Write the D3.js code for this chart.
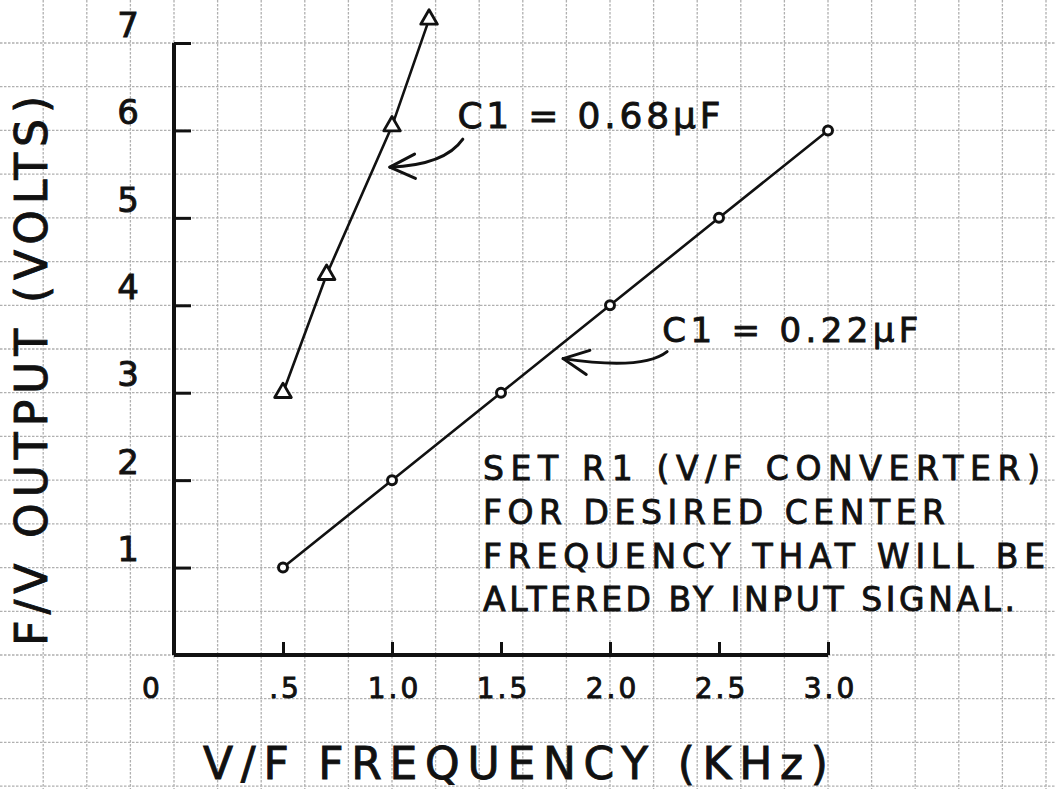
<!DOCTYPE html>
<html>
<head>
<meta charset="utf-8">
<script src="https://cdn.jsdelivr.net/npm/d3@7"></script>
<style>
  html, body { margin: 0; padding: 0; background: #fff; }
  svg { display: block; }
  text { font-family: "DejaVu Sans", sans-serif; fill: #111; stroke: #111; stroke-width: 0.9px; }
</style>
</head>
<body>
<div id="vis"></div>
<script>
var width = 1055;
var height = 789;

// tick values and labels
var xTicks = [0, 0.5, 1.0, 1.5, 2.0, 2.5, 3.0];
var xTickLabels = ['0', '.5', '1.0', '1.5', '2.0', '2.5', '3.0'];
var yTicks = [1, 2, 3, 4, 5, 6, 7];

// C1 = 0.22 uF series (circles)
var freq022 = [0.5, 1.0, 1.5, 2.0, 2.5, 3.0];
var volts022 = [1, 2, 3, 4, 5, 6];

// C1 = 0.68 uF series (triangles)
var freq068 = [0.5, 0.7, 1.0, 1.17];
var volts068 = [3.0, 4.35, 6.05, 7.27];

var noteLines = [
  'SET R1 (V/F CONVERTER)',
  'FOR DESIRED CENTER',
  'FREQUENCY THAT WILL BE',
  'ALTERED BY INPUT SIGNAL.'
];

var svg = d3.select('#vis').append('svg')
  .attr('width', width)
  .attr('height', height);

svg.append('rect').attr('width', width).attr('height', height).attr('fill', '#fff');

var x = d3.scaleLinear().domain([0, 3]).range([174, 828]);
var y = d3.scaleLinear().domain([0, 7]).range([655, 43]);

// graph paper: 2.5 cells per 0.5 kHz, 2 cells per volt
var cellX = (x(0.5) - x(0)) / 2.5;
var cellY = (y(0) - y(0.5));
var gx = d3.range(x(0) - 3 * cellX, width + 1, cellX);
var gy = d3.range(y(7) - cellY, height + 1, cellY);

var grid = svg.append('g')
  .attr('stroke', '#b0b0b0')
  .attr('stroke-width', 1.3)
  .attr('stroke-dasharray', '2.5,1.5');
grid.selectAll('.vg').data(gx).enter().append('line')
  .attr('x1', d => d).attr('x2', d => d)
  .attr('y1', 0).attr('y2', height);
grid.selectAll('.hg').data(gy).enter().append('line')
  .attr('y1', d => d).attr('y2', d => d)
  .attr('x1', 0).attr('x2', width);

// axes
var yAxis = d3.axisLeft(y)
  .tickValues(yTicks)
  .tickFormat(d3.format('d'))
  .tickSizeInner(-17)
  .tickSizeOuter(0)
  .tickPadding(34);

var yg = svg.append('g').attr('transform', 'translate(' + x(0) + ',0)').call(yAxis);
yg.select('.domain').attr('stroke', '#111').attr('stroke-width', 4)
  .attr('d', 'M0,' + y(0) + 'V' + y(7));
yg.selectAll('.tick line').attr('stroke', '#111').attr('stroke-width', 3);
yg.selectAll('.tick text')
  .attr('font-size', 34)
  .attr('font-family', 'DejaVu Sans')
  .attr('fill', '#111')
  .attr('dy', '-0.2em')
  .attr('text-anchor', 'middle')
  .attr('x', -46);

var xAxis = d3.axisBottom(x)
  .tickValues(xTicks)
  .tickFormat((d, i) => xTickLabels[i])
  .tickSizeInner(-13)
  .tickSizeOuter(0)
  .tickPadding(23);

var xg = svg.append('g').attr('transform', 'translate(0,' + y(0) + ')').call(xAxis);
xg.select('.domain').attr('stroke', '#111').attr('stroke-width', 4)
  .attr('d', 'M' + x(0) + ',0H' + x(3));
xg.selectAll('.tick line').attr('stroke', '#111').attr('stroke-width', 3);
xg.selectAll('.tick text')
  .attr('font-size', 28)
  .attr('font-family', 'DejaVu Sans')
  .attr('fill', '#111')
  .attr('letter-spacing', 3)
  .attr('x', d => d === 0 ? -22 : 2);

// axis titles
svg.append('text')
  .attr('transform', 'translate(47,' + (y(3.25)) + ') rotate(-90)')
  .attr('text-anchor', 'middle')
  .attr('font-size', 44)
  .attr('textLength', 550)
  .attr('lengthAdjust', 'spacing')
  .text('F/V OUTPUT (VOLTS)');

svg.append('text')
  .attr('x', 203)
  .attr('y', 779)
  .attr('font-size', 44)
  .attr('textLength', 625)
  .attr('lengthAdjust', 'spacing')
  .text('V/F FREQUENCY (KHz)');

// series lines
var line = d3.line().x(d => x(d[0])).y(d => y(d[1]));
var pts022 = freq022.map((f, i) => [f, volts022[i]]);
var pts068 = freq068.map((f, i) => [f, volts068[i]]);

svg.append('path').datum(pts022)
  .attr('d', line).attr('fill', 'none')
  .attr('stroke', '#111').attr('stroke-width', 2.6);
svg.append('path').datum(pts068)
  .attr('d', line).attr('fill', 'none')
  .attr('stroke', '#111').attr('stroke-width', 2.6);

svg.selectAll('.pt022').data(pts022).enter().append('circle')
  .attr('cx', d => x(d[0])).attr('cy', d => y(d[1]))
  .attr('r', 4.5)
  .attr('fill', '#fff').attr('stroke', '#111').attr('stroke-width', 3);

var tri = d3.symbol().type(d3.symbolTriangle).size(120);
svg.selectAll('.pt068').data(pts068).enter().append('path')
  .attr('d', tri)
  .attr('transform', d => 'translate(' + x(d[0]) + ',' + y(d[1]) + ')')
  .attr('fill', '#fff').attr('stroke', '#111').attr('stroke-width', 2.8)
  .attr('stroke-linejoin', 'round');

// curve labels with arrows
var labels = [
  { text: 'C1 = 0.68\u00B5F', lx: 1.3, ly: 6.03, len: 263, size: 36,
    tip: [0.99, 5.58], start: [73, -28], ctrl: [55, -2] },
  { text: 'C1 = 0.22\u00B5F', lx: 2.24, ly: 3.58, len: 256, size: 34,
    tip: [1.785, 3.39], start: [104, -7], ctrl: [80, 12] }
];

labels.forEach(function (l) {
  svg.append('text')
    .attr('x', x(l.lx)).attr('y', y(l.ly))
    .attr('font-size', l.size)
    .attr('textLength', l.len)
    .attr('lengthAdjust', 'spacing')
    .text(l.text);

  var tx = x(l.tip[0]), ty = y(l.tip[1]);
  var p = d3.path();
  p.moveTo(tx + l.start[0], ty + l.start[1]);
  p.quadraticCurveTo(tx + l.ctrl[0], ty + l.ctrl[1], tx, ty);
  svg.append('path').attr('d', p.toString())
    .attr('fill', 'none').attr('stroke', '#111')
    .attr('stroke-width', 3).attr('stroke-linecap', 'round');

  // arrow head, opened back along the shaft
  var ang = Math.atan2(l.ctrl[1], l.ctrl[0]);
  var h = d3.path();
  [ang - 0.45, ang + 0.45].forEach(function (a) {
    h.moveTo(tx + 28 * Math.cos(a), ty + 28 * Math.sin(a));
    h.lineTo(tx, ty);
  });
  svg.append('path').attr('d', h.toString())
    .attr('fill', 'none').attr('stroke', '#111')
    .attr('stroke-width', 3).attr('stroke-linecap', 'round');
});

// note block, one line per graph paper row
svg.selectAll('.note').data(noteLines).enter().append('text')
  .attr('x', 483)
  .attr('y', (d, i) => y(2) + i * cellY)
  .attr('font-size', 33)
  .attr('textLength', (d, i) => [557, 462, 562, 532][i])
  .attr('lengthAdjust', 'spacing')
  .text(d => d);
</script>
</body>
</html>
